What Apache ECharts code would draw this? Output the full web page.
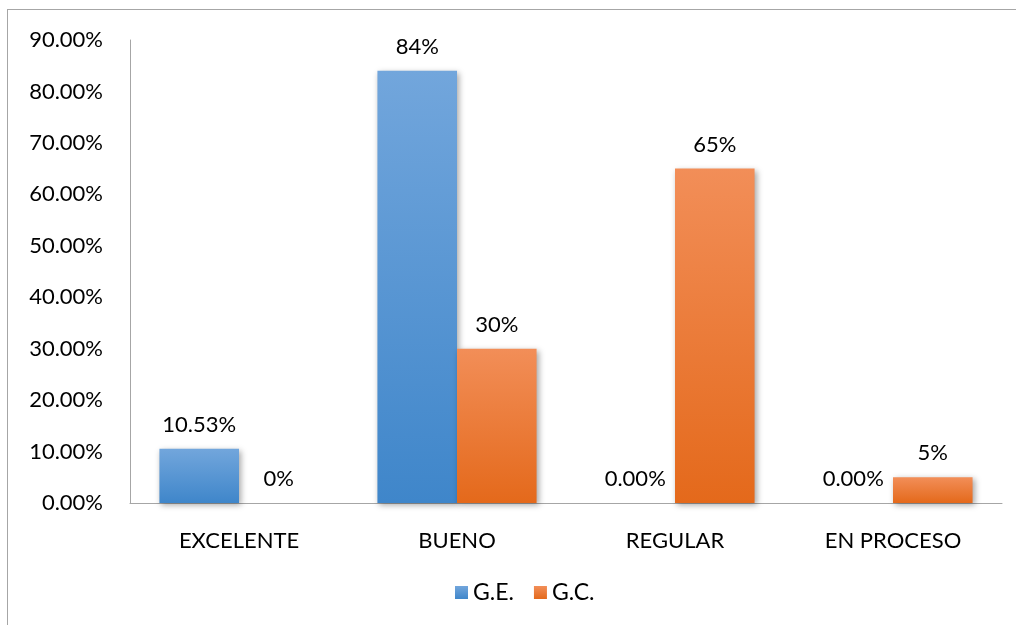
<!DOCTYPE html>
<html lang="es">
<head>
<meta charset="utf-8">
</head>
<body style="margin: 0; background: #fff">
<div id="frame" style="position: absolute; left: 7px; top: 9px; width: 1020px; height: 630px; border-left: 1px solid #a6a6a6; border-top: 1px solid #a6a6a6;"></div>
<div id="container" style="position: absolute; left: 0; top: 0; width: 1016px; height: 625px"></div>
<script src="https://cdn.jsdelivr.net/npm/echarts@6/dist/echarts.min.js"></script>
<script>
const categories = ['EXCELENTE', 'BUENO', 'REGULAR', 'EN PROCESO'];
const geValues = [10.53, 84, 0, 0];
const geLabels = ['10.53%', '84%', '0.00%', '0.00%'];
const gcValues = [0, 30, 65, 5];
const gcLabels = ['0%', '30%', '65%', '5%'];

const font = 'Lato, "Open Sans", sans-serif';
const chart = echarts.init(document.getElementById('container'), null, { renderer: 'canvas' });

function grad(top, bottom) {
    return new echarts.graphic.LinearGradient(0, 0, 0, 1, [
        { offset: 0, color: top },
        { offset: 1, color: bottom }
    ]);
}

function labelFor(labels) {
    return {
        show: true,
        position: 'top',
        distance: 13,
        color: '#000',
        fontFamily: font,
        fontSize: 22,
        formatter: p => labels[p.dataIndex]
    };
}

const shadow = {
    shadowColor: 'rgba(0,0,0,0.35)',
    shadowBlur: 6,
    shadowOffsetX: 2,
    shadowOffsetY: 2
};

chart.setOption({
    animation: false,
    grid: { left: 130, right: 14, top: 40, bottom: 122 },
    legend: {
        bottom: 16,
        left: 450,
        itemWidth: 13,
        itemHeight: 13,
        itemGap: 20,
        icon: 'rect',
        textStyle: { color: '#000', fontFamily: font, fontSize: 23 },
        data: ['G.E.', 'G.C.']
    },
    xAxis: {
        type: 'category',
        data: categories,
        axisLine: { lineStyle: { color: '#a6a6a6', width: 1 } },
        axisTick: { show: false },
        axisLabel: { color: '#000', fontFamily: font, fontSize: 22, margin: 27 }
    },
    yAxis: {
        type: 'value',
        min: 0,
        max: 90,
        interval: 10,
        axisLine: { show: true, lineStyle: { color: '#a6a6a6', width: 1 } },
        axisTick: { show: false },
        splitLine: { show: false },
        axisLabel: {
            color: '#000', fontFamily: font, fontSize: 22, margin: 27,
            formatter: v => v.toFixed(2) + '%'
        }
    },
    series: [
        {
            name: 'G.E.',
            type: 'bar',
            data: geValues,
            barGap: '0%',
            barCategoryGap: '27%',
            itemStyle: Object.assign({ color: grad('#72a6dc', '#3f86ca') }, shadow),
            label: labelFor(geLabels)
        },
        {
            name: 'G.C.',
            type: 'bar',
            data: gcValues,
            itemStyle: Object.assign({ color: grad('#f28e58', '#e4691b') }, shadow),
            label: labelFor(gcLabels)
        }
    ]
});
window.addEventListener('resize', chart.resize);
</script>
</body>
</html>
